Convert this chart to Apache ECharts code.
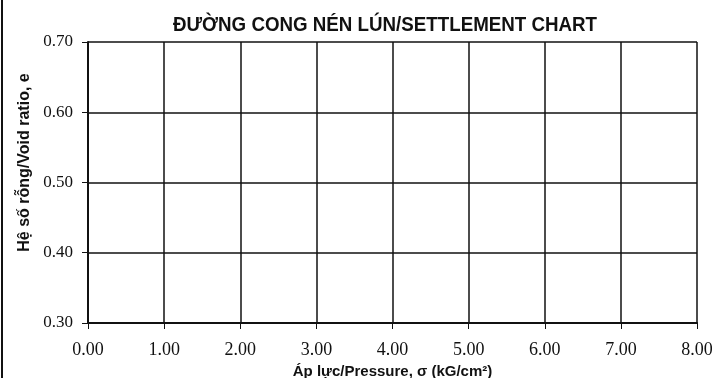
<!DOCTYPE html>
<html>
<head>
<meta charset="utf-8">
<script src="https://cdn.jsdelivr.net/npm/echarts@6/dist/echarts.min.js"></script>
<style>
  html, body { margin: 0; padding: 0; background: #fff; }
  #main { width: 712px; height: 378px; }
</style>
</head>
<body>
<div id="main"></div>
<script>
// trục và nhãn
const xRange = [0, 8];
const xStep = 1;
const yRange = [0.3, 0.7];
const yStep = 0.1;
const titleText = 'ĐƯỜNG CONG NÉN LÚN/SETTLEMENT CHART';
const xName = 'Áp lực/Pressure, σ (kG/cm²)';
const yName = 'Hệ số rỗng/Void ratio, e';
// chưa có điểm đo
const pressure = [];
const voidRatio = [];

const INK = '#111';

// tiêu đề là chữ hẹp, co ngang cho vừa
const TITLE_FONT = 'bold 21px "Liberation Sans"';
const TITLE_WIDTH = 424;
let ctx = document.createElement('canvas').getContext('2d');
ctx.font = TITLE_FONT;
let titleScale = TITLE_WIDTH / ctx.measureText(titleText).width;

let chart = echarts.init(document.getElementById('main'));

let option = {
    backgroundColor: '#fff',
    animation: false,
    grid: { left: 88, right: 15, top: 42, bottom: 55, outerBoundsMode: 'none' },
    xAxis: {
        type: 'value',
        min: xRange[0],
        max: xRange[1],
        interval: xStep,
        name: xName,
        nameLocation: 'middle',
        nameGap: 39,
        nameTextStyle: {
            fontFamily: 'Liberation Sans, Arial',
            fontWeight: 'bold',
            fontSize: 15,
            color: INK
        },
        axisLine: { lineStyle: { color: INK, width: 2 } },
        axisTick: { show: true, length: 6, lineStyle: { color: INK, width: 1 } },
        axisLabel: {
            margin: 18,
            fontFamily: 'Liberation Serif, Times New Roman',
            fontSize: 18,
            color: INK,
            formatter: v => v.toFixed(2)
        },
        splitLine: { show: true, lineStyle: { color: INK, width: 1.5 } }
    },
    yAxis: {
        type: 'value',
        min: yRange[0],
        max: yRange[1],
        interval: yStep,
        name: yName,
        nameLocation: 'middle',
        nameGap: 55,
        nameTextStyle: {
            fontFamily: 'Liberation Sans, Arial',
            fontWeight: 'bold',
            fontSize: 16,
            color: INK,
            padding: [0, 0, 0, 40]
        },
        axisLine: { show: true, lineStyle: { color: INK, width: 2 } },
        axisTick: { show: true, length: 6, lineStyle: { color: INK, width: 1 } },
        axisLabel: {
            margin: 15,
            fontFamily: 'Liberation Serif, Times New Roman',
            fontSize: 17,
            color: INK,
            formatter: v => v.toFixed(2)
        },
        splitLine: { show: true, lineStyle: { color: INK, width: 1.5 } }
    },
    graphic: [{
        type: 'line',
        shape: { x1: 2, y1: 0, x2: 2, y2: 378 },
        style: { stroke: INK, lineWidth: 2 }
    }, {
        type: 'text',
        x: 385,
        y: 25,
        scaleX: titleScale,
        style: {
            text: titleText,
            font: TITLE_FONT,
            fill: INK,
            align: 'center',
            verticalAlign: 'middle'
        }
    }],
    series: [{
        type: 'line',
        data: pressure.map((p, i) => [p, voidRatio[i]]),
        lineStyle: { color: INK },
        itemStyle: { color: INK }
    }]
};

chart.setOption(option);
</script>
</body>
</html>
